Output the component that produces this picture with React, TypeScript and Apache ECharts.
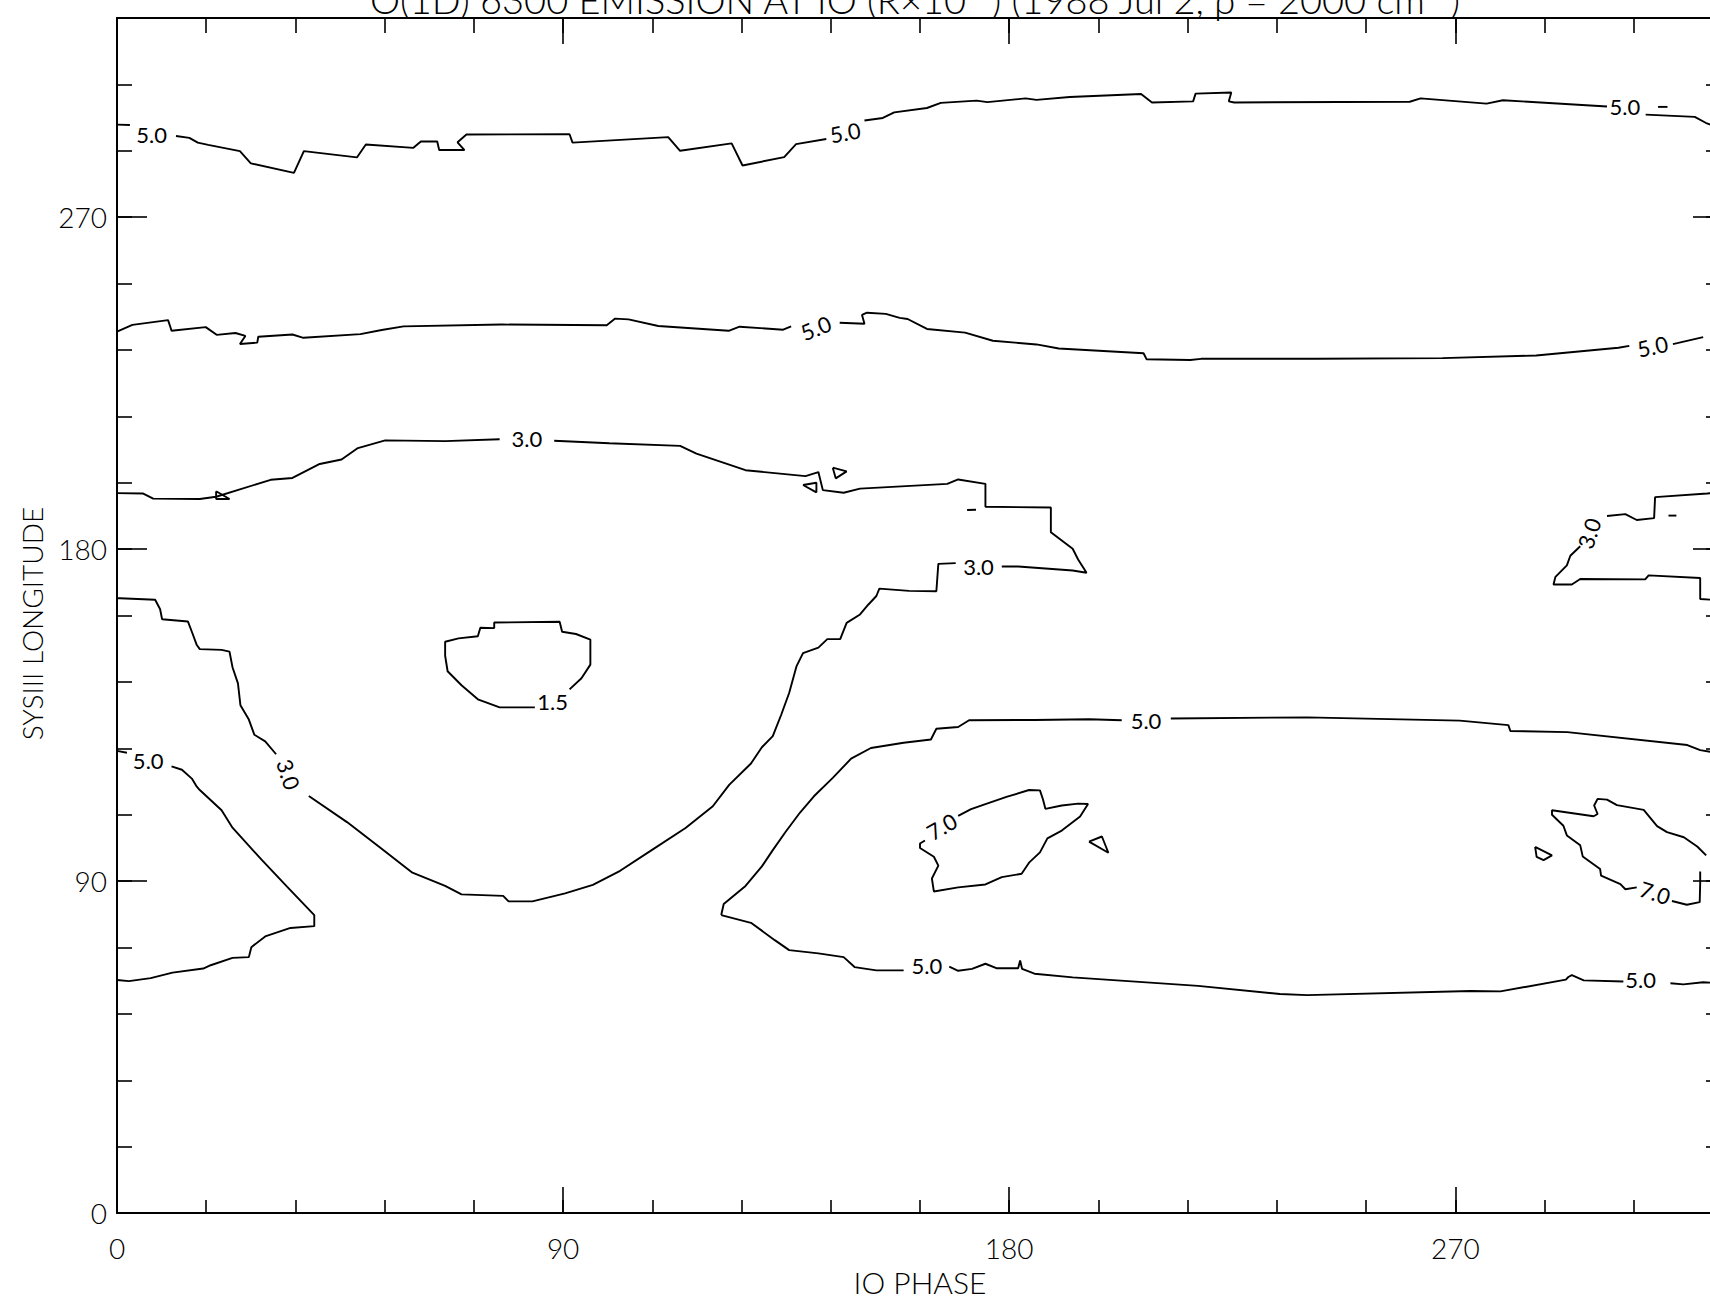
import React, { useEffect, useRef } from "react";
import * as echarts from "echarts";

// ---------- axis definitions ----------
const axisMin = 0;
const axisMax = 324;
const majorStep = 90;
const minorStep = 18;

const titleText = "O(1D) 6300 EMISSION AT IO (R×10⁻³) (1988 Jul 2, ρ = 2000 cm⁻³)";
const xName = "IO PHASE";
const yName = "SYSIII LONGITUDE";

// ---------- contour segments: [IO phase, SysIII longitude] ----------
// upper 5.0 contour
const c5TopStub = [[0, 295.1], [2.6, 295.0]];
const c5TopA = [
  [11.9, 292.0], [14.6, 291.5], [16.3, 290.2], [18.4, 289.6], [24.8, 287.9], [27.0, 284.6],
  [35.7, 282.0], [37.7, 287.9], [48.4, 286.2], [50.2, 289.7], [59.8, 288.8], [61.3, 290.5],
  [64.6, 290.5], [65.0, 288.2], [70.1, 288.2], [68.7, 290.3], [70.5, 292.4], [91.3, 292.5],
  [91.9, 290.2], [111.2, 291.7], [113.6, 288.0], [124.0, 290.0], [126.2, 284.0], [134.6, 286.3],
  [137.0, 289.8], [143.1, 291.2],
];
const c5TopB = [
  [150.8, 296.2], [154.5, 296.9], [156.8, 298.4], [163.4, 299.6], [166.2, 301.0], [173.4, 301.6],
  [175.6, 301.2], [183.3, 302.2], [185.5, 301.8], [192.2, 302.6], [206.6, 303.4], [208.8, 301.1],
  [217.1, 301.4], [217.6, 303.5], [224.8, 303.8], [224.3, 301.4], [225.4, 301.1], [260.8, 301.3],
  [263.0, 302.2], [276.3, 300.8], [279.6, 301.7], [300.6, 300.0],
];
const c5TopC = [[308.4, 297.8], [318.3, 297.2], [320.5, 295.6], [322.5, 294.5]];
const c5TopDash = [[310.9, 299.9], [312.8, 299.9]];

// second 5.0 contour
const c5MidA = [
  [0, 239.0], [3.1, 240.8], [10.3, 242.1], [10.8, 240.1], [11.0, 239.2], [17.9, 240.2],
  [20.1, 238.1], [23.9, 238.6], [25.9, 237.8], [24.8, 235.6], [28.3, 236.0], [28.5, 237.6],
  [35.4, 238.2], [37.6, 237.3], [49.1, 238.3], [53.4, 239.4], [57.8, 240.4], [77.5, 240.9],
  [98.8, 240.7], [100.5, 242.5], [103.2, 242.3], [109.2, 240.5], [123.4, 239.2], [125.6, 240.3],
  [134.4, 239.5], [136.0, 240.4],
];
const c5MidB = [
  [145.8, 241.4], [150.8, 241.1], [150.3, 243.5], [151.3, 244.1], [155.1, 243.8], [157.9, 242.7],
  [159.5, 242.4], [163.4, 239.7], [171.1, 238.7], [176.7, 236.5], [185.5, 235.5], [190.0, 234.4],
  [207.1, 233.1], [207.7, 231.5], [216.5, 231.3], [218.7, 231.6], [242.0, 231.6], [267.4, 231.8],
  [286.3, 232.5], [302.9, 234.6], [305.1, 235.1],
];
const c5MidC = [[313.9, 235.6], [320.0, 237.5]];

// 3.0 contour surrounding the low region
const c3MainA = [
  [0, 195.2], [5.2, 195.1], [7.3, 193.7], [16.7, 193.6], [20.0, 194.2], [31.0, 198.8],
  [35.4, 199.3], [40.9, 203.1], [45.3, 204.3], [48.6, 207.4], [54.1, 209.5], [66.2, 209.3],
  [77.2, 209.8],
];
const c3MainB = [
  [88.2, 209.4], [99.3, 208.7], [113.6, 208.0], [116.9, 205.9], [126.8, 201.4], [138.9, 199.8],
  [141.5, 200.9], [142.4, 196.0], [146.6, 195.3], [149.9, 196.4], [167.5, 197.7], [169.7, 198.9],
  [175.2, 197.7], [175.2, 191.5], [188.4, 191.3], [188.4, 184.6], [192.8, 180.1], [193.9, 177.2],
  [195.6, 173.6], [192.8, 174.2], [181.8, 175.3], [178.5, 175.3],
];
const c3MainC = [
  [169.2, 176.2], [165.7, 176.0], [165.3, 168.6], [159.8, 168.7], [153.8, 169.3], [153.2, 167.3],
  [151.6, 165.0], [149.9, 162.3], [147.2, 160.0], [145.9, 155.6], [143.3, 155.6], [141.5, 153.3],
  [138.4, 151.8], [137.1, 148.3], [135.6, 141.0], [134.0, 135.1], [132.3, 129.3], [130.1, 126.3],
  [127.9, 121.9], [123.5, 116.1], [120.2, 110.3], [114.7, 104.4], [108.1, 98.6], [101.5, 92.8],
  [96.0, 89.0], [90.4, 86.7], [87.1, 85.6], [83.8, 84.5], [79.0, 84.5], [77.9, 86.0],
  [69.5, 86.4], [66.2, 88.7], [59.6, 92.3], [53.0, 99.2], [46.4, 106.0], [38.7, 113.1],
];
const c3MainD = [
  [32.1, 124.4], [29.9, 127.9], [27.7, 129.7], [26.6, 133.8], [24.9, 137.7], [24.4, 143.6],
  [23.3, 148.0], [22.7, 152.2], [21.1, 152.7], [16.7, 152.9], [16.1, 154.0], [15.1, 157.6],
  [14.3, 160.4], [9.1, 161.0], [8.7, 163.7], [7.7, 166.3], [0.6, 166.7], [0, 166.7],
];
const c3LoopA = [[20.0, 195.7], [22.7, 193.6], [20.0, 193.6], [20.0, 195.7]];
const c3LoopB = [[138.4, 197.4], [141.1, 198.0], [141.1, 195.4], [138.4, 197.4]];
const c3LoopC = [[144.4, 202.1], [147.2, 201.1], [145.0, 199.2], [144.4, 202.1]];
const c3DashA = [[171.5, 190.6], [173.3, 190.7]];

// 1.5 closed contour
const c15Loop = [
  [91.3, 142.0], [93.7, 145.0], [95.5, 148.7], [95.5, 155.5], [92.6, 157.0], [89.8, 157.6],
  [89.3, 160.3], [76.1, 160.1], [76.1, 158.6], [73.3, 158.7], [72.8, 156.4], [68.9, 155.8],
  [66.2, 154.9], [66.2, 151.1], [66.7, 146.9], [69.5, 143.1], [72.8, 139.3], [77.2, 137.1],
  [84.3, 137.1],
];

// left lower 5.0 contour
const c5LeftStub = [[0, 125.3], [2.0, 124.8]];
const c5Left = [
  [11.0, 121.1], [13.1, 120.2], [15.1, 117.8], [16.1, 115.6], [16.7, 114.7], [21.1, 109.2],
  [23.3, 104.5], [29.3, 95.6], [34.3, 88.5], [39.8, 80.8], [39.8, 77.8], [35.0, 77.3],
  [29.9, 75.0], [27.1, 72.1], [26.6, 69.4], [23.3, 69.2], [18.9, 67.2], [17.4, 66.3],
  [11.2, 65.2], [6.8, 63.7], [2.4, 62.9], [0, 63.2],
];

// large lower-right 5.0 contour
const c5BigUpperA = [
  [121.9, 80.8], [122.4, 83.8], [126.8, 88.7], [130.1, 94.0], [132.3, 98.4], [134.9, 103.4],
  [137.8, 108.6], [140.6, 113.0], [144.4, 118.0], [148.1, 123.2], [152.1, 126.1], [158.7, 127.5],
  [164.2, 128.4], [165.3, 131.3], [169.7, 131.8], [171.9, 133.6], [185.1, 133.7], [196.1, 133.9],
  [202.7, 133.6],
];
const c5BigUpperB = [
  [212.6, 134.1], [240.1, 134.4], [270.9, 133.5], [280.7, 132.3], [281.1, 130.7], [292.6, 130.4],
  [316.8, 126.9], [319.4, 125.5], [322.5, 124.8],
];
const c5BigLowerA = [
  [121.9, 80.8], [127.9, 78.7], [132.7, 74.0], [135.6, 71.3], [141.5, 70.4], [146.6, 69.4],
  [148.8, 66.7], [153.2, 65.8], [158.7, 65.8],
];
const c5BigLowerB = [
  [167.9, 66.8], [169.7, 65.7], [172.5, 66.2], [175.2, 67.6], [177.4, 66.4], [181.8, 66.4],
  [182.2, 68.5], [182.6, 66.2], [185.1, 64.9], [192.8, 63.9], [218.1, 61.6], [234.6, 59.4],
  [240.1, 59.1], [273.1, 60.2], [279.1, 60.1], [292.3, 63.3], [292.8, 64.0], [293.5, 64.5],
  [295.9, 63.1], [303.9, 62.8],
];
const c5BigLowerC = [[313.4, 62.3], [316.0, 62.0], [320.0, 62.6], [322.5, 62.4]];

// 7.0 contours
const c7Middle = [
  [169.7, 107.7], [172.3, 109.5], [175.2, 110.9], [179.6, 112.9], [184.0, 114.7], [186.2, 114.6],
  [186.8, 112.2], [187.3, 109.6], [190.6, 110.5], [193.9, 111.0], [195.9, 110.9], [194.3, 107.5],
  [190.6, 103.7], [187.7, 101.6], [186.2, 97.8], [184.0, 95.0], [182.5, 92.0], [178.5, 91.1],
  [175.2, 89.1], [169.7, 88.3], [164.8, 87.2], [164.4, 90.7], [165.7, 94.2], [164.8, 96.6],
  [162.0, 99.0], [162.0, 100.2], [163.0, 101.0],
];
const c7MiddleLoop = [[196.1, 100.7], [198.7, 102.1], [200.0, 97.7], [196.1, 100.7]];
const c7RightA = [
  [320.6, 97.0], [318.8, 99.4], [316.1, 101.9], [312.7, 103.3], [310.7, 104.9], [308.0, 109.3],
  [302.6, 110.6], [300.6, 112.1], [298.7, 112.3], [298.0, 110.5], [298.7, 108.2], [297.9, 107.6],
  [289.5, 109.2], [289.5, 108.0], [291.8, 105.0], [292.5, 102.4], [295.2, 99.7], [295.7, 96.7],
  [299.2, 93.3], [299.4, 91.5], [303.3, 89.2], [304.3, 87.8], [306.6, 88.3],
];
const c7RightB = [[313.7, 84.6], [316.7, 83.6], [319.3, 84.3], [319.4, 89.5], [319.4, 92.6]];
const c7RightLoop = [[286.1, 99.3], [289.5, 97.0], [287.8, 95.7], [286.4, 96.6], [286.1, 99.3]];

// right 3.0 contour
const c3RightA = [
  [322.5, 195.3], [320.8, 195.1], [310.3, 194.1], [310.1, 188.4], [306.6, 187.9], [304.3, 189.5],
  [300.6, 189.0],
];
const c3RightB = [
  [295.2, 180.8], [293.2, 178.2], [292.5, 175.6], [290.2, 172.5], [289.8, 170.4], [293.5, 170.4],
  [295.2, 171.9], [308.3, 171.8], [309.0, 172.9], [319.4, 172.2], [319.4, 166.5], [322.5, 166.2],
];
const c3RightDash = [[313.0, 189.1], [314.6, 189.1]];

const contourSegments = [
  c5TopStub, c5TopA, c5TopB, c5TopC, c5TopDash,
  c5MidA, c5MidB, c5MidC,
  c3MainA, c3MainB, c3MainC, c3MainD, c3LoopA, c3LoopB, c3LoopC, c3DashA,
  c15Loop,
  c5LeftStub, c5Left,
  c5BigUpperA, c5BigUpperB, c5BigLowerA, c5BigLowerB, c5BigLowerC,
  c7Middle, c7MiddleLoop, c7RightA, c7RightB, c7RightLoop,
  c3RightA, c3RightB, c3RightDash,
];

// ---------- contour labels ----------
const labelText = ["5.0", "5.0", "5.0", "5.0", "5.0", "3.0", "3.0", "3.0", "1.5", "5.0", "5.0", "5.0", "5.0", "7.0", "7.0", "3.0"];
const labelPhase = [7.0, 146.9, 304.2, 141.0, 309.8, 82.7, 173.8, 34.6, 87.9, 6.3, 207.6, 163.4, 307.4, 166.4, 310.3, 297.0];
const labelLon = [292.3, 293.0, 300.0, 240.0, 235.0, 210.1, 175.4, 118.9, 138.8, 122.6, 133.6, 67.0, 63.2, 104.8, 86.9, 184.3];
const labelAngle = [0, 10, 0, 22, 12, 0, 0, -72, 0, 0, 0, 0, 0, 30, -18, 72];

const FONT = "Lato";

function App() {
  const ref = useRef<HTMLDivElement>(null);

  useEffect(() => {
    if (!ref.current) return;
    const chart = echarts.init(ref.current, null, { renderer: "svg" });

    const frameLine = { show: true, onZero: false, lineStyle: { color: "#000", width: 2 } };
    const hiddenLine = { show: false, onZero: false };
    const tickStyle = { color: "#000", width: 1.6 };
    const baseAxis = { type: "value", min: axisMin, max: axisMax, splitLine: { show: false } };

    const lineSeries = contourSegments.map((seg) => ({
      type: "line",
      data: seg,
      xAxisIndex: 0,
      yAxisIndex: 0,
      showSymbol: false,
      symbol: "none",
      silent: true,
      lineStyle: { color: "#000", width: 1.9 },
      z: 3,
    }));

    const labelSeries = {
      type: "scatter",
      xAxisIndex: 0,
      yAxisIndex: 0,
      symbolSize: 0,
      silent: true,
      z: 4,
      itemStyle: { color: "#000", opacity: 1 },
      data: labelText.map((t, i) => ({
        name: t,
        value: [labelPhase[i], labelLon[i]],
        label: { rotate: labelAngle[i] },
      })),
      label: {
        show: true,
        position: "inside",
        formatter: "{b}",
        color: "#000",
        opacity: 1,
        textBorderWidth: 0,
        fontSize: 22,
        fontFamily: FONT,
        fontWeight: 400,
      },
    };

    chart.setOption({
      animation: false,
      backgroundColor: "#ffffff",
      grid: { left: 117, right: 7, top: 18, bottom: 82 },
      graphic: [
        {
          type: "text",
          x: 915,
          y: 18,
          silent: true,
          style: {
            text: titleText,
            align: "center",
            verticalAlign: "bottom",
            fill: "#000",
            fontSize: 38,
            fontFamily: FONT,
            fontWeight: 300,
          },
        },
      ],
      xAxis: [
        {
          ...baseAxis,
          position: "bottom",
          interval: majorStep,
          axisLine: frameLine,
          axisTick: { show: true, inside: true, length: 26, lineStyle: tickStyle },
          axisLabel: { show: true, margin: 21, fontSize: 28, color: "#000", fontFamily: FONT, fontWeight: 300, showMaxLabel: false },
          name: xName,
          nameLocation: "middle",
          nameGap: 49,
          nameTextStyle: { fontSize: 30, color: "#000", fontFamily: FONT, fontWeight: 300 },
        },
        {
          ...baseAxis,
          position: "bottom",
          interval: minorStep,
          axisLine: hiddenLine,
          axisTick: { show: true, inside: true, length: 13, lineStyle: tickStyle },
          axisLabel: { show: false },
        },
        {
          ...baseAxis,
          position: "top",
          interval: majorStep,
          axisLine: frameLine,
          axisTick: { show: true, inside: true, length: 26, lineStyle: tickStyle },
          axisLabel: { show: false },
        },
        {
          ...baseAxis,
          position: "top",
          interval: minorStep,
          axisLine: hiddenLine,
          axisTick: { show: true, inside: true, length: 15, lineStyle: tickStyle },
          axisLabel: { show: false },
        },
      ],
      yAxis: [
        {
          ...baseAxis,
          position: "left",
          interval: majorStep,
          axisLine: frameLine,
          axisTick: { show: true, inside: true, length: 30, lineStyle: tickStyle },
          axisLabel: { show: true, margin: 10, fontSize: 28, color: "#000", fontFamily: FONT, fontWeight: 300, showMaxLabel: false },
          name: yName,
          nameLocation: "middle",
          nameRotate: 90,
          nameGap: 71,
          nameTextStyle: { fontSize: 28, color: "#000", fontFamily: FONT, fontWeight: 300, padding: [0, 16, 0, 0] },
        },
        {
          ...baseAxis,
          position: "left",
          interval: minorStep,
          axisLine: hiddenLine,
          axisTick: { show: true, inside: true, length: 15, lineStyle: tickStyle },
          axisLabel: { show: false },
        },
        {
          ...baseAxis,
          position: "right",
          interval: majorStep,
          axisLine: frameLine,
          axisTick: { show: true, inside: true, length: 30, lineStyle: tickStyle },
          axisLabel: { show: false },
        },
        {
          ...baseAxis,
          position: "right",
          interval: minorStep,
          axisLine: hiddenLine,
          axisTick: { show: true, inside: true, length: 17, lineStyle: tickStyle },
          axisLabel: { show: false },
        },
      ],
      series: [...lineSeries, labelSeries],
    });

    return () => chart.dispose();
  }, []);

  return (
    <div style={{ position: "fixed", left: 0, top: 0, width: 1710, height: 1302, overflow: "hidden", background: "#fff" }}>
      <div ref={ref} style={{ width: 1730, height: 1302 }} />
    </div>
  );
}

export default App;
